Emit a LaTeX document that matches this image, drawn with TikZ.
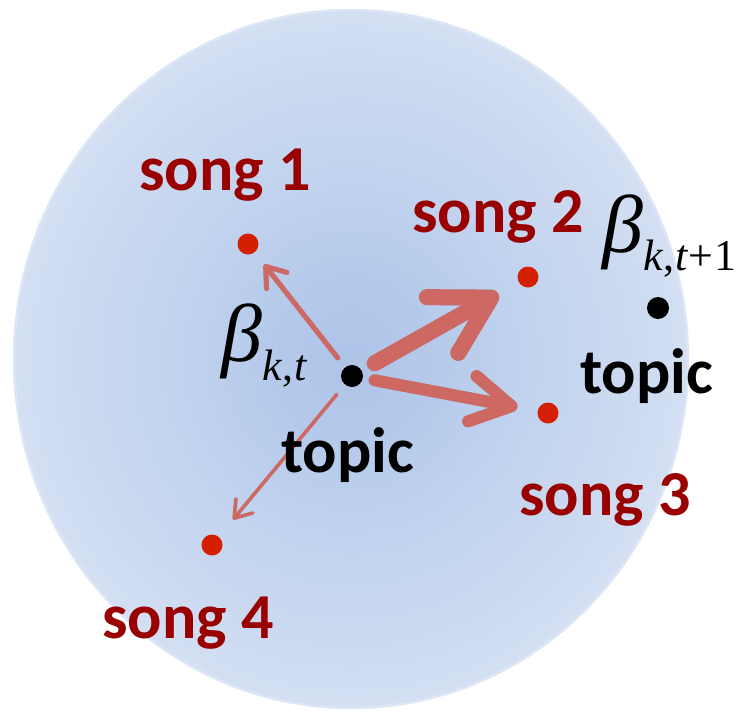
\documentclass[tikz,border=0pt]{standalone}
\usepackage{fontspec}
\usetikzlibrary{arrows.meta,calc}
\newfontfamily\carl{Carlito}
\newfontfamily\tmsf{Liberation Serif}
\definecolor{labred}{RGB}{153,0,0}
\definecolor{dotred}{RGB}{212,32,0}
\definecolor{arrred}{RGB}{206,104,98}
\definecolor{rimc}{RGB}{226,234,247}
\pgfdeclareradialshading{bluerad}{\pgfpoint{0bp}{0bp}}{rgb(0bp)=(0.68,0.77,0.91); rgb(6bp)=(0.71,0.79,0.92); rgb(14bp)=(0.76,0.83,0.935); rgb(22bp)=(0.81,0.86,0.945); rgb(25bp)=(0.83,0.875,0.95); rgb(50bp)=(0.83,0.875,0.95)}
\tikzset{
  songlabel/.style={anchor=base west, inner sep=0, text=labred, font=\carl\bfseries\fontsize{64}{64}\selectfont},
  topiclabel/.style={anchor=base west, inner sep=0, text=black, font=\carl\bfseries\fontsize{64}{64}\selectfont},
  betalabel/.style={anchor=base west, inner sep=0, font=\tmsf\itshape\fontsize{82}{82}\selectfont},
  songdot/.style={circle, fill=dotred, minimum size=21pt, inner sep=0},
  topicdot/.style={circle, fill=black, minimum size=22pt, inner sep=0},
  arr/.style={draw=arrred, line cap=round, line join=round},
  arrshadow/.style={draw=black, opacity=0.12, line cap=round, line join=round, xshift=2pt, yshift=-3pt}
}
\begin{document}
\begin{tikzpicture}[x=1pt,y=-1pt]
\useasboundingbox (0,0) rectangle (740,718);
% sphere
\shade[shading=bluerad] (351,359) ellipse [x radius=338pt, y radius=350pt];
\draw[rimc, line width=2.5pt, opacity=0.7] (351,359) ellipse [x radius=337pt, y radius=349pt];
% dots
\node[topicdot] (t1) at (352,376) {};
\node[topicdot] (t2) at (658,308) {};
\node[songdot] (s1) at (248,244) {};
\node[songdot] (s2) at (528,277) {};
\node[songdot] (s3) at (548,413) {};
\node[songdot] (s4) at (212,545) {};
% arrow shadows
\draw[arrshadow, line width=5pt, -{Straight Barb[length=18pt, width=26pt, round]}] ($(t1)!23pt!(s1)$) -- ($(s1)!26pt!(t1)$);
\draw[arrshadow, line width=3.5pt, -{Straight Barb[length=16pt, width=22pt, round]}] ($(t1)!24pt!(s4)$) -- ($(s4)!33pt!(t1)$);
\draw[arrshadow, line width=16pt, -{Straight Barb[length=56pt, width=64pt, round]}] ($(t1)!26pt!(s2)$) -- ($(s2)!34pt!(t1)$);
\draw[arrshadow, line width=12pt, -{Straight Barb[length=40pt, width=46pt, round]}] ($(t1)!23pt!(s3)$) -- ($(s3)!31pt!(t1)$);
% arrows
\draw[arr, line width=5pt, -{Straight Barb[length=18pt, width=26pt, round]}] ($(t1)!23pt!(s1)$) -- ($(s1)!26pt!(t1)$);
\draw[arr, line width=3.5pt, -{Straight Barb[length=16pt, width=22pt, round]}] ($(t1)!24pt!(s4)$) -- ($(s4)!33pt!(t1)$);
\draw[arr, line width=16pt, -{Straight Barb[length=56pt, width=64pt, round]}] ($(t1)!26pt!(s2)$) -- ($(s2)!34pt!(t1)$);
\draw[arr, line width=12pt, -{Straight Barb[length=40pt, width=46pt, round]}] ($(t1)!23pt!(s3)$) -- ($(s3)!31pt!(t1)$);
% labels
\node[songlabel] (l1) at (139,190) {song 1};
\node[songlabel] (l2) at (412,232) {song 2};
\node[songlabel] (l3) at (519,515) {song 3};
\node[songlabel] (l4) at (102,638) {song 4};
\node[topiclabel] (tl1) at (281,472) {topic};
\node[topiclabel] (tl2) at (580,393) {topic};
\node[betalabel] (b1) at (221,361) {β\raisebox{-19pt}{\fontsize{44}{44}\selectfont k\kern1pt\upshape,\kern1pt\itshape t}};
\node[betalabel] (b2) at (602,252) {β\raisebox{-18pt}{\fontsize{44}{44}\selectfont k\kern1pt\upshape,\kern1pt\itshape t\upshape\kern1pt+\kern1pt1}};
\end{tikzpicture}
\end{document}
